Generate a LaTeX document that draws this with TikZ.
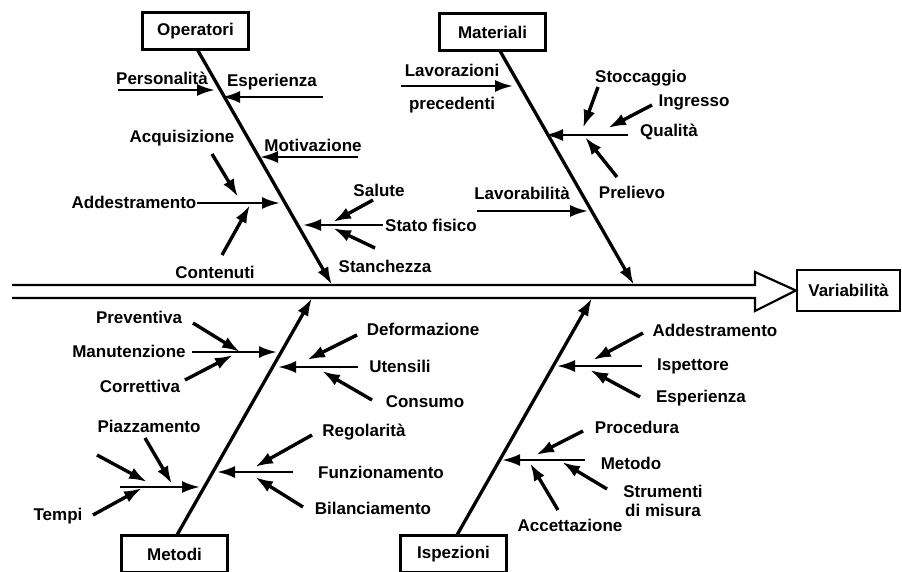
\documentclass[tikz,border=0pt]{standalone}
\usepackage{fontspec}
\setmainfont{Liberation Sans}
\usetikzlibrary{arrows.meta}
\tikzstyle{cause}=[draw, line width=2.2pt, minimum width=106pt, minimum height=37pt,
    inner sep=0pt, font=\fontsize{17}{19}\selectfont\bfseries]
\tikzstyle{bone}=[draw, line width=3.3pt, -{Latex[length=18pt,width=12pt]}]
\tikzstyle{weight}=[font=\fontsize{17}{19}\selectfont\bfseries, inner sep=0pt, align=center]

\begin{document}
\begin{tikzpicture}[x=1pt, y=-1pt]
    \tikzstyle{twig}=[draw, line width=3.4pt, -{Latex[length=18pt,width=12pt]}]
    \tikzstyle{branch}=[draw, line width=2.6pt, -{Latex[length=18pt,width=12pt]}]
  \useasboundingbox (0,0) rectangle (902,572);

  % effect and the four causes
  \node[cause, minimum width=103pt, minimum height=41pt] (effect) at (848.5,290.5) {Variabilità};
  \foreach \name/\x/\y/\txt in {oper/195.5/31/Operatori, mat/492.5/32/Materiali,
                                met/174.5/554/Metodi, isp/453.5/554/Ispezioni}
        \node[cause] (\name) at (\x,\y) {\txt};

  % spine
  \draw[line width=2.2pt, line join=miter] (12,285) -- (755,285) -- (755,272) -- (effect.west)
        -- (755,311) -- (755,298) -- (12,298);

  % main bones
  \foreach \name/\x/\y in {operT/197/49, operB/332/285, matT/500/51, matB/634/285,
                           metT/177/535, metB/312/298, ispT/457/535, ispB/592/298}
        \coordinate (\name) at (\x,\y);
  \foreach \a/\b in {operT/operB, matT/matB, metT/metB, ispT/ispB}
        \path[bone] (\a) -- (\b);

  % labels
  \foreach \name/\x/\y/\txt in {pers/162/78/Personalità, esp/272/82/Esperienza,
                                acq/182/138/Acquisizione, motiv/313/145/Motivazione,
                                addO/134/202/Addestramento, cont/215/272/Contenuti,
                                sal/379/190/Salute, stato/431/225/Stato fisico,
                                stan/385/266/Stanchezza,
                                stocc/641/78/Stoccaggio, ingr/694/102/Ingresso,
                                qual/669/132/Qualità, prel/632/192/Prelievo,
                                lavor/522/193/Lavorabilità,
                                prev/139/317/Preventiva, manut/129/351/Manutenzione,
                                corr/140/386/Correttiva, defo/423/329/Deformazione,
                                uten/400/366/Utensili, cons/425/402/Consumo,
                                piaz/149/426/Piazzamento, tempi/58/516/Tempi,
                                rego/364/432/Regolarità, funz/381/472/Funzionamento,
                                bila/373/508/Bilanciamento,
                                addI/715/330/Addestramento, ispet/693/366/Ispettore,
                                espI/701/398/Esperienza, proc/637/427/Procedura,
                                metodo/631/463/Metodo, strum/663/501/{Strumenti\\di misura},
                                acce/570/525/Accettazione}
        \node[weight] (\name) at (\x,\y) {\txt};
  \node[weight] (lavprec) at (452,88.5) {Lavorazioni\\[14pt]precedenti};

  % branch ends
  \foreach \name/\x/\y in {b1s/118/90, b1e/215/90, b2s/323/97, b2e/222/97,
                           b3s/358/157, b3e/260/157, b4s/197/203, b4e/280/203,
                           b5s/383/225, b5e/303/225,
                           b6s/401/86, b6e/513/86, b7s/628/135, b7e/545/135,
                           b8s/477/211, b8e/588/211,
                           b9s/192/352, b9e/277/352, b10s/358/367, b10e/278/367,
                           b11s/293/472, b11e/217/472, b12s/120/487, b12e/200/487,
                           b13s/642/366, b13e/557/366, b14s/585/460, b14e/502/460}
        \coordinate (\name) at (\x,\y);
  \foreach \a/\b in {b1s/b1e, b2s/b2e, b3s/b3e, b4s/b4e, b5s/b5e, b6s/b6e, b7s/b7e,
                     b8s/b8e, b9s/b9e, b10s/b10e, b11s/b11e, b12s/b12e, b13s/b13e,
                     b14s/b14e}
        \path[branch] (\a) -- (\b);

  % twig ends
  \foreach \name/\x/\y in {t1s/212/154, t1e/238/197, t2s/222/255, t2e/250/205,
                           t3s/373/200, t3e/333/222, t4s/375/248, t4e/333/228,
                           t5s/598/87, t5e/583/128, t6s/652/105, t6e/608/128,
                           t7s/617/177, t7e/585/137,
                           t8s/193/323, t8e/240/352, t9s/185/380, t9e/233/355,
                           t10s/357/335, t10e/307/360, t11s/372/400, t11e/322/371,
                           t12s/312/435, t12e/255/467, t13s/303/507, t13e/255/477,
                           t14s/97/455, t14e/147/482, t15s/145/438, t15e/172/484,
                           t16s/93/515, t16e/142/488,
                           t17s/643/333, t17e/593/360, t18s/640/397, t18e/590/370,
                           t19s/583/431, t19e/536/455, t20s/607/489, t20e/562/462,
                           t21s/558/510, t21e/530/463}
        \coordinate (\name) at (\x,\y);
  \foreach \a/\b in {t1s/t1e, t2s/t2e, t3s/t3e, t4s/t4e, t5s/t5e, t6s/t6e, t7s/t7e,
                     t8s/t8e, t9s/t9e, t10s/t10e, t11s/t11e, t12s/t12e, t13s/t13e,
                     t14s/t14e, t15s/t15e, t16s/t16e, t17s/t17e, t18s/t18e,
                     t19s/t19e, t20s/t20e, t21s/t21e}
        \path[twig] (\a) -- (\b);

\end{tikzpicture}
\end{document}
